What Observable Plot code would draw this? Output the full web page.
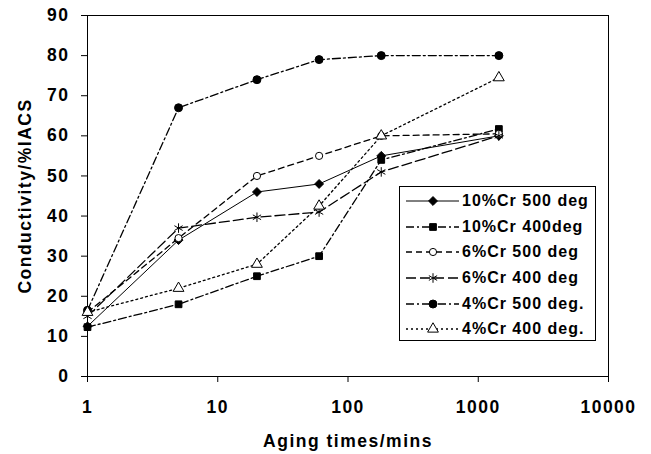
<!DOCTYPE html>
<html><head><meta charset="utf-8">
<script src="https://cdn.jsdelivr.net/npm/d3@7"></script>
<script src="https://cdn.jsdelivr.net/npm/@observablehq/plot@0.6"></script>
<style>
body{margin:0;background:#fff;}
#wrap{position:relative;width:651px;height:454px;font-family:"Liberation Sans",Arial,sans-serif;}
#legend{position:absolute;left:399px;top:186px;width:197px;height:155px;border:1px solid #000;background:#fff;box-sizing:border-box;padding-top:1.5px;}
.row{display:flex;align-items:center;height:25.6px;}
.row svg{flex:none;}
.row span{font-weight:bold;font-size:16px;letter-spacing:1px;margin-left:-1px;white-space:nowrap;color:#000;}
</style>
</head><body>
<div id="wrap"><div id="chart"></div><div id="legend"></div></div>
<script>
const times = [1, 5, 20, 60, 180, 1440];
const seriesNames = ["10%Cr 500 deg", "10%Cr 400deg", "6%Cr 500 deg", "6%Cr 400 deg", "4%Cr 500 deg.", "4%Cr 400 deg."];
const cr10_500 = [12.5, 34, 46, 48, 55, 60];
const cr10_400 = [12.3, 18, 25, 30, 54, 61.7];
const cr6_500 = [16, 34.5, 50, 55, 60, 60.5];
const cr6_400 = [15, 37, 39.7, 41, 51, 60];
const cr4_500 = [16.5, 67, 74, 79, 80, 80];
const cr4_400 = [16, 22, 28, 42.5, 60, 74.5];
const xTicks = [1, 10, 100, 1000, 10000];
const yTicks = [0, 10, 20, 30, 40, 50, 60, 70, 80, 90];

const values = [cr10_500, cr10_400, cr6_500, cr6_400, cr4_500, cr4_400];
const styles = [
  {dash: null, symbol: d3.symbolDiamond2, fill: "black", r: 4},
  {dash: "8,3,2,3", symbol: d3.symbolSquare, fill: "black", r: 3.8},
  {dash: "6,4", symbol: d3.symbolCircle, fill: "white", r: 3.6},
  {dash: "10,4", symbol: d3.symbolAsterisk, fill: "none", r: 4.5},
  {dash: "8,3,2,3", symbol: d3.symbolCircle, fill: "black", r: 4},
  {dash: "2,3", symbol: d3.symbolTriangle, fill: "white", r: 4}
];

const marks = [];
seriesNames.forEach((name, i) => {
  const data = times.map((t, j) => ({t, v: values[i][j]}));
  const s = styles[i];
  marks.push(Plot.line(data, {x: "t", y: "v", stroke: "black", strokeWidth: i === 0 ? 1 : 1.3, strokeDasharray: s.dash}));
});
seriesNames.forEach((name, i) => {
  const data = times.map((t, j) => ({t, v: values[i][j]}));
  const s = styles[i];
  marks.push(Plot.dot(data, {x: "t", y: "v", symbol: () => s.symbol, r: s.r, fill: s.fill, stroke: "black", strokeWidth: 1}));
});

const chart = Plot.plot({
  width: 651, height: 454,
  marginLeft: 87, marginRight: 43, marginTop: 15, marginBottom: 78,
  style: {fontFamily: "'Liberation Sans', Arial, sans-serif", fontWeight: "bold", fontSize: "17px", letterSpacing: "1.5px", color: "black", background: "white"},
  x: {type: "log", domain: [1, 10000]},
  y: {domain: [0, 90]},
  marks: [
    Plot.frame({stroke: "black", strokeWidth: 1}),
    Plot.axisX({ticks: xTicks, tickFormat: d3.format("d"), tickSize: 6, tickPadding: 18, label: "Aging times/mins", labelAnchor: "center", labelArrow: "none", labelOffset: 70, fontWeight: "bold", fontSize: 17.5}),
    Plot.axisY({ticks: yTicks, tickSize: 6, tickPadding: 12, label: "Conductivity/%IACS", labelAnchor: "center", labelArrow: "none", labelOffset: 69, fontWeight: "bold", fontSize: 17.5}),
    ...marks
  ]
});
document.getElementById("chart").appendChild(chart);

const legend = document.getElementById("legend");
seriesNames.forEach((name, i) => {
  const s = styles[i];
  const row = document.createElement("div");
  row.className = "row";
  const svg = d3.create("svg").attr("width", 63).attr("height", 14);
  svg.append("line").attr("x1", 6).attr("x2", 59).attr("y1", 7).attr("y2", 7)
    .attr("stroke", "black").attr("stroke-width", i === 0 ? 1 : 1.3).attr("stroke-dasharray", s.dash);
  svg.append("path").attr("transform", "translate(33,7)")
    .attr("d", d3.symbol().type(s.symbol).size(Math.PI * s.r * s.r)())
    .attr("fill", s.fill).attr("stroke", "black");
  row.appendChild(svg.node());
  const sp = document.createElement("span");
  sp.textContent = name;
  row.appendChild(sp);
  legend.appendChild(row);
});
</script>
</body></html>
